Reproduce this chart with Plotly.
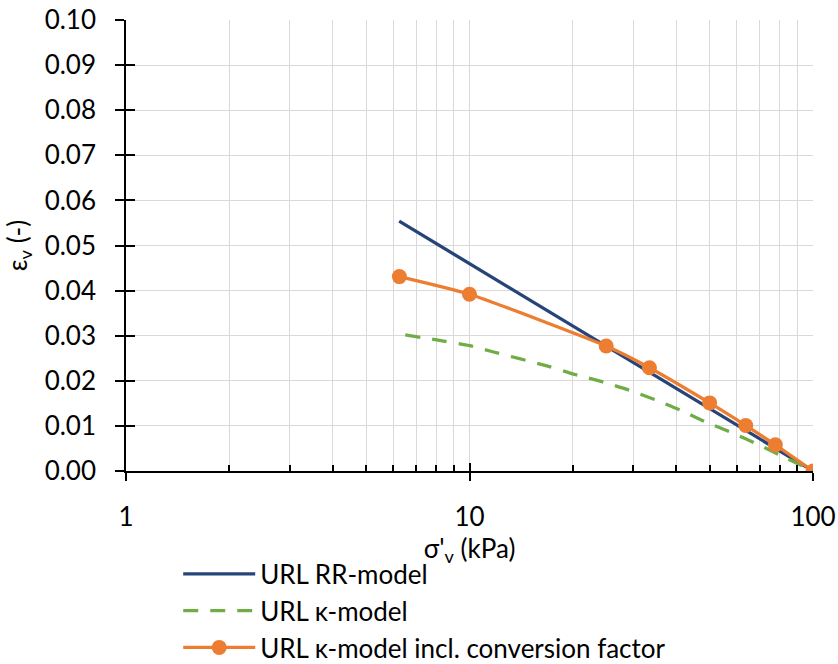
import plotly.graph_objects as go

# ---- data ----
rr_x = [6.24, 100]
rr_y = [0.0554, 0.0]

kappa_x = [6.5, 8.1, 10, 11.6, 16.8, 20.3, 24.3, 29.0, 34.7, 41.1, 48.6, 58.1, 68.7, 81.2, 100]
kappa_y = [0.0302, 0.0290, 0.0278, 0.0265, 0.0233, 0.0214, 0.0198, 0.0180, 0.0158,
           0.0135, 0.0109, 0.0085, 0.0060, 0.0033, 0.0]

conv_x = [6.25, 10, 25, 33.4, 50, 63.7, 77.7, 100]
conv_y = [0.0431, 0.0392, 0.0277, 0.0229, 0.0151, 0.0101, 0.0058, 0.0]

y_ticks = [0.00, 0.01, 0.02, 0.03, 0.04, 0.05, 0.06, 0.07, 0.08, 0.09, 0.10]
y_labels = ["%.2f" % v for v in y_ticks]
x_ticks = [1, 10, 100]
x_labels = ["1", "10", "100"]
x_minor = [2, 3, 4, 5, 6, 7, 8, 9, 20, 30, 40, 50, 60, 70, 80, 90]

BLUE = "#264478"
GREEN = "#70AD47"
ORANGE = "#ED7D31"
GRID = "#D9D9D9"
FONT = "Lato"
FS = 26

fig = go.Figure()
fig.add_trace(go.Scatter(x=rr_x, y=rr_y, mode="lines", name="URL RR-model",
                         line=dict(color=BLUE, width=3.3)))
fig.add_trace(go.Scatter(x=kappa_x, y=kappa_y, mode="lines", name="URL κ-model",
                         line=dict(color=GREEN, width=3.3, dash="15px,12px",
                                   shape="spline", smoothing=0.6)))
fig.add_trace(go.Scatter(x=conv_x, y=conv_y, mode="lines+markers",
                         name="URL κ-model incl. conversion factor",
                         line=dict(color=ORANGE, width=3.3, shape="spline", smoothing=0.5),
                         marker=dict(color=ORANGE, size=15)))
# helper trace so the overlay axes (inner half of the crossing ticks) are drawn
fig.add_trace(go.Scatter(x=[], y=[], xaxis="x2", yaxis="y2", showlegend=False,
                         hoverinfo="skip"))

fig.update_layout(
    width=838, height=664,
    margin=dict(l=126, r=25, t=20, b=193, autoexpand=False),
    paper_bgcolor="white", plot_bgcolor="white",
    font=dict(family=FONT, size=FS, color="black"),
    showlegend=True,
    legend=dict(x=0.076, y=-0.176, xanchor="left", yanchor="top",
                font=dict(family=FONT, size=FS, color="black"),
                bgcolor="rgba(0,0,0,0)", itemwidth=72, tracegroupgap=0),
    xaxis=dict(type="log", range=[0, 2], tickvals=x_ticks, ticktext=x_labels,
               ticks="outside", ticklen=8, tickwidth=1.5, tickcolor="black",
               showline=True, linecolor="black", linewidth=1.5,
               showgrid=True, gridcolor=GRID, gridwidth=1.3,
               minor=dict(tickvals=x_minor, ticks="inside", ticklen=6, tickwidth=1.5,
                          tickcolor="black", showgrid=True, gridcolor=GRID, gridwidth=1.3),
               ticklabelstandoff=14, zeroline=False, automargin=False,
               title=dict(text="σ'<sub>v</sub> (kPa)", standoff=6,
                          font=dict(family=FONT, size=FS))),
    yaxis=dict(range=[0, 0.1], tickvals=y_ticks, ticktext=y_labels,
               ticks="outside", ticklen=9, tickwidth=1.5, tickcolor="black",
               showline=True, linecolor="black", linewidth=1.5,
               showgrid=True, gridcolor=GRID, gridwidth=1.3, zeroline=False,
               ticklabelstandoff=14, automargin=False,
               title=dict(text="ε<sub>v</sub> (-)", standoff=10,
                          font=dict(family=FONT, size=FS))),
    xaxis2=dict(type="log", range=[0, 2], overlaying="x", tickvals=x_ticks,
                showticklabels=False, ticks="inside", ticklen=8, tickwidth=1.5,
                tickcolor="black", showgrid=False, showline=False, zeroline=False,
                side="bottom", automargin=False),
    yaxis2=dict(range=[0, 0.1], overlaying="y", tickvals=y_ticks,
                showticklabels=False, ticks="inside", ticklen=9, tickwidth=1.5,
                tickcolor="black", showgrid=False, showline=False, zeroline=False,
                side="left", automargin=False),
)

fig.write_html("out.html")
